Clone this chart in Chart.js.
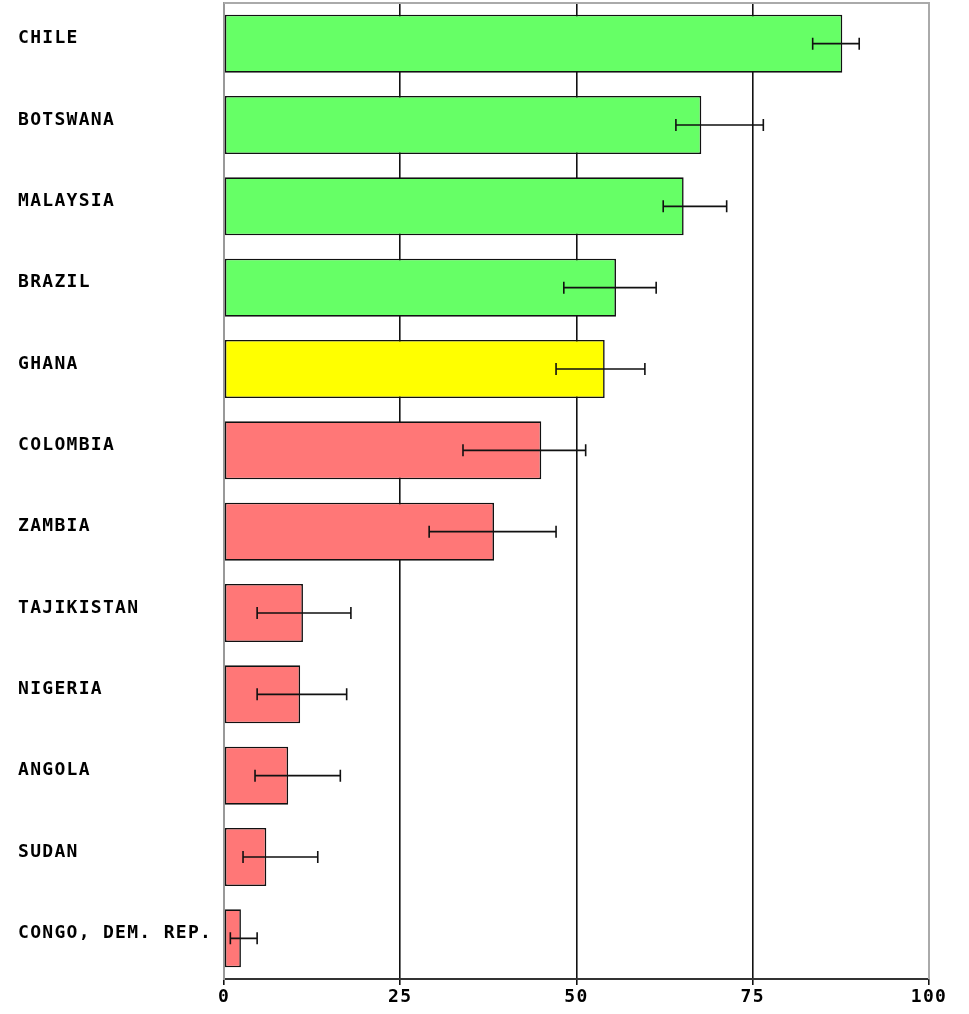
<!DOCTYPE html>
<html>
<head>
<meta charset="utf-8">
<script src="https://cdn.jsdelivr.net/npm/chart.js@4"></script>
<style>
  html, body { margin: 0; padding: 0; background: #fff; }
  #wrap { width: 969px; height: 1014px; }
</style>
</head>
<body>
<div id="wrap"><canvas id="scoreChart"></canvas></div>
<script>
const countries = ["CHILE", "BOTSWANA", "MALAYSIA", "BRAZIL", "GHANA", "COLOMBIA", "ZAMBIA",
  "TAJIKISTAN", "NIGERIA", "ANGOLA", "SUDAN", "CONGO, DEM. REP."];
const scores = [87.7, 67.7, 65.2, 55.6, 54.0, 45.0, 38.3, 11.2, 10.8, 9.1, 6.0, 2.4];
const lowerBound = [83.5, 64.1, 62.3, 48.2, 47.1, 33.9, 29.1, 4.7, 4.7, 4.4, 2.7, 0.9];
const upperBound = [90.1, 76.5, 71.3, 61.3, 59.7, 51.3, 47.1, 18.0, 17.4, 16.5, 13.3, 4.7];
const barColors = ["#66ff66", "#66ff66", "#66ff66", "#66ff66", "#ffff00", "#ff7777", "#ff7777",
  "#ff7777", "#ff7777", "#ff7777", "#ff7777", "#ff7777"];
const xTicks = [0, 25, 50, 75, 100];

const labelFont = { family: "'DejaVu Sans Mono', monospace", size: 18, weight: "bold" };

// letter spacing for the blocky label look
const spacingPlugin = {
  id: "spacing",
  beforeDraw(chart) {
    chart.ctx.letterSpacing = "1.3px";
  }
};

// gray frame on top and right of the plot
const framePlugin = {
  id: "frame",
  beforeDatasetsDraw(chart) {
    const { ctx, chartArea: a } = chart;
    ctx.save();
    ctx.strokeStyle = "#aaaaaa";
    ctx.lineWidth = 2;
    ctx.beginPath();
    ctx.moveTo(a.left, a.top);
    ctx.lineTo(a.right, a.top);
    ctx.lineTo(a.right, a.bottom);
    ctx.stroke();
    ctx.restore();
  }
};

const errorBarPlugin = {
  id: "errorBars",
  afterDatasetsDraw(chart) {
    const { ctx, scales } = chart;
    const meta = chart.getDatasetMeta(0);
    ctx.save();
    ctx.strokeStyle = "#111";
    ctx.lineWidth = 1.6;
    meta.data.forEach((bar, i) => {
      const x1 = scales.x.getPixelForValue(lowerBound[i]);
      const x2 = scales.x.getPixelForValue(upperBound[i]);
      const y = bar.y;
      ctx.beginPath();
      ctx.moveTo(x1, y);
      ctx.lineTo(x2, y);
      ctx.moveTo(x1, y - 6);
      ctx.lineTo(x1, y + 6);
      ctx.moveTo(x2, y - 6);
      ctx.lineTo(x2, y + 6);
      ctx.stroke();
    });
    ctx.restore();
  }
};

new Chart(document.getElementById("scoreChart"), {
  type: "bar",
  data: {
    labels: countries,
    datasets: [{
      data: scores,
      backgroundColor: barColors,
      borderColor: "#111",
      borderWidth: 1.6,
      borderSkipped: false,
      barPercentage: 0.713,
      categoryPercentage: 1
    }]
  },
  options: {
    indexAxis: "y",
    responsive: true,
    maintainAspectRatio: false,
    animation: false,
    layout: { autoPadding: false, padding: { left: 18, top: 3, right: 40, bottom: 0 } },
    plugins: { legend: { display: false }, tooltip: { enabled: false } },
    scales: {
      x: {
        min: 0,
        max: 100,
        afterBuildTicks: (scale) => { scale.ticks = xTicks.map(v => ({ value: v })); },
        afterFit: (scale) => { scale.height = 35; },
        grid: {
          color: (c) => (c.tick && c.tick.value > 0 && c.tick.value < 100) ? "#111" : "rgba(0,0,0,0)",
          lineWidth: 1.6,
          tickColor: "#111",
          tickLength: 6,
          drawTicks: true
        },
        border: { color: "#333", width: 2 },
        ticks: { color: "#000", font: labelFont, padding: 2, maxRotation: 0 }
      },
      y: {
        afterFit: (scale) => {
          scale.width = 206;
          scale.paddingTop = 0;
          scale.paddingBottom = 0;
        },
        grid: { display: false },
        border: { color: "#999", width: 2 },
        ticks: { color: "#000", font: labelFont, crossAlign: "far", labelOffset: -5, autoSkip: false }
      }
    }
  },
  plugins: [spacingPlugin, framePlugin, errorBarPlugin]
});
</script>
</body>
</html>
